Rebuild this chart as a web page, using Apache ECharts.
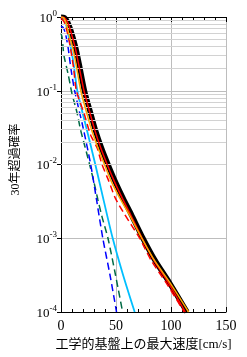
<!DOCTYPE html>
<html><head><meta charset="utf-8">
<script src="https://cdn.jsdelivr.net/npm/echarts@6/dist/echarts.min.js"></script>
<style>html,body{margin:0;padding:0;background:#fff}#c{width:247px;height:357px}</style>
</head><body><div id="c"></div>
<script>
const xTicks = [0, 50, 100, 150];
const minorGrid = [0.0002,0.0003,0.0004,0.0005,0.0006,0.0007,0.0008,0.0009,
  0.002,0.003,0.004,0.005,0.006,0.007,0.008,0.009,
  0.02,0.03,0.04,0.05,0.06,0.07,0.08,0.09,
  0.2,0.3,0.4,0.5,0.6,0.7,0.8,0.9];

const blackV = [0, 3, 6, 9, 13.2, 16.5, 21.3, 27, 31.3, 36.6, 42.7, 49, 56.4, 63.9, 74.5, 85.5, 98.5, 114.5];
const blackP = [1, 0.98, 0.85, 0.65, 0.39, 0.23, 0.1, 0.049, 0.029, 0.017, 0.01, 0.006, 0.0035, 0.0021, 0.001, 0.0005, 0.00025, 0.0001];
const redV = [0, 3, 6, 8.7, 12.8, 16, 20.9, 26.5, 30.8, 36, 42, 48.3, 55.7, 63.2, 73.8, 84.5, 97.5, 113];
const redP = [1, 0.98, 0.85, 0.65, 0.39, 0.23, 0.1, 0.049, 0.029, 0.017, 0.01, 0.006, 0.0035, 0.0021, 0.001, 0.0005, 0.00025, 0.0001];
const orangeV = [0, 2.5, 5, 7, 10.5, 13.6, 18, 23.5, 28, 33.5, 39.5, 45.5, 53.5, 62, 73.5, 85, 99, 116];
const orangeP = [1, 0.97, 0.8, 0.6, 0.39, 0.23, 0.1, 0.049, 0.029, 0.017, 0.01, 0.006, 0.0035, 0.0021, 0.001, 0.0005, 0.00025, 0.0001];
const redDashV = [0, 3, 6, 9, 11.5, 14, 21, 27, 32.7, 37.3, 43.4, 49.4, 57.9, 71.5, 82, 95.5, 112];
const redDashP = [0.97, 0.85, 0.6, 0.35, 0.2, 0.1, 0.049, 0.025, 0.017, 0.01, 0.006, 0.0035, 0.0021, 0.001, 0.0005, 0.00025, 0.0001];
const cyanV = [0, 2.5, 5, 8.8, 11.5, 14.8, 23, 31.2, 39, 47, 56.5, 67];
const cyanP = [1, 0.95, 0.75, 0.39, 0.23, 0.1, 0.0316, 0.01, 0.00316, 0.001, 0.000316, 0.0001];
const blueV = [0, 2, 4, 6.4, 9, 12.4, 20, 27, 32.5, 38, 44.5, 50.5];
const blueP = [0.75, 0.72, 0.6, 0.39, 0.2, 0.1, 0.032, 0.01, 0.0032, 0.001, 0.00032, 0.0001];
const greenV = [0, 1, 2.7, 6.4, 10, 14.5, 17.9, 22, 26, 29.7, 33.6, 37.3, 42.7, 49.5, 56];
const greenP = [0.6, 0.53, 0.3, 0.17, 0.091, 0.051, 0.029, 0.017, 0.01, 0.006, 0.0033, 0.00195, 0.001, 0.00032, 0.0001];

const xName = '工学的基盤上の最大速度[cm/s]';
const yName = '30年超過確率';

const FONT = "'Liberation Serif', 'Noto Sans CJK JP', serif";
const pairs = (v, p) => v.map((x, i) => [x, p[i]]);
function line(v, p, color, width, dashed, z) {
  return {
    type: 'line', data: pairs(v, p), showSymbol: false, smooth: 0.25, z: z,
    lineStyle: { color: color, width: width, type: dashed ? [7, 4] : 'solid', cap: 'butt' },
    silent: true, animation: false, clip: true
  };
}

const chart = echarts.init(document.getElementById('c'), null, { renderer: 'canvas' });
chart.setOption({
  animation: false,
  textStyle: { fontFamily: FONT },
  grid: { left: 61, right: 21, top: 17, bottom: 45 },
  xAxis: [{
    type: 'value', min: 0, max: 150, interval: 50,
    axisLine: { show: true, lineStyle: { color: '#000', width: 1 } },
    axisTick: { show: true, inside: true, length: 5, lineStyle: { color: '#000' } },
    minorTick: { show: true, splitNumber: 5, length: 3, lineStyle: { color: '#000' } },
    splitLine: { show: true, lineStyle: { color: '#bdbdbd', width: 1 } },
    axisLabel: { color: '#000', fontSize: 14, fontFamily: FONT, margin: 7,
      formatter: v => xTicks.indexOf(v) >= 0 ? String(v) : '' },
    name: xName, nameLocation: 'middle', nameGap: 21,
    nameTextStyle: { color: '#000', fontSize: 13, fontFamily: FONT }
  }, {
    type: 'value', min: 0, max: 150, interval: 50, position: 'top',
    axisLine: { show: true, lineStyle: { color: '#000', width: 1 } },
    axisTick: { show: true, inside: true, length: 5, lineStyle: { color: '#000' } },
    minorTick: { show: true, splitNumber: 5, length: 3, lineStyle: { color: '#000' } },
    splitLine: { show: false }, axisLabel: { show: false }
  }],
  yAxis: [{
    type: 'log', logBase: 10, min: 0.0001, max: 1,
    axisLine: { show: true, lineStyle: { color: '#000', width: 1 } },
    axisTick: { show: true, inside: false, length: 3, lineStyle: { color: '#000' } },
    splitLine: { show: true, lineStyle: { color: '#bdbdbd', width: 1 } },
    axisLabel: {
      margin: 4, color: '#000',
      formatter: v => '{b|10}{s|' + Math.round(Math.log10(v)) + '}',
      rich: {
        b: { fontSize: 13, fontFamily: FONT, color: '#000', verticalAlign: 'bottom', lineHeight: 16 },
        s: { fontSize: 9, fontFamily: FONT, color: '#000', verticalAlign: 'top', lineHeight: 16, padding: [0, 0, 6, 0] }
      }
    },
    name: yName, nameLocation: 'middle', nameGap: 39, nameRotate: 90,
    nameTextStyle: { color: '#000', fontSize: 12, fontFamily: FONT, padding: [0, 0, 0, 10] }
  }, {
    type: 'log', logBase: 10, min: 0.0001, max: 1, position: 'right',
    axisLine: { show: true, lineStyle: { color: '#000', width: 1 } },
    axisTick: { show: true, inside: true, length: 4, lineStyle: { color: '#000' } },
    splitLine: { show: false }, axisLabel: { show: false }
  }],
  series: [
    {
      type: 'line', data: [], silent: true, z: 1,
      markLine: {
        silent: true, symbol: 'none', animation: false, label: { show: false },
        lineStyle: { color: '#d2d2d2', width: 1, type: 'solid' },
        data: minorGrid.map(v => ({ yAxis: v }))
      }
    },
    line(blackV, blackP, '#000000', 5.5, false, 3),
    line(greenV, greenP, '#006b45', 1.5, true, 4),
    line(blueV, blueP, '#0000ff', 1.5, true, 4),
    line(cyanV, cyanP, '#00bfff', 1.8, false, 4),
    line(redDashV, redDashP, '#ff0000', 1.5, true, 5),
    line(redV, redP, '#ff0000', 1.5, false, 6),
    line(orangeV, orangeP, '#ffa500', 1.5, false, 7)
  ]
});
</script></body></html>
